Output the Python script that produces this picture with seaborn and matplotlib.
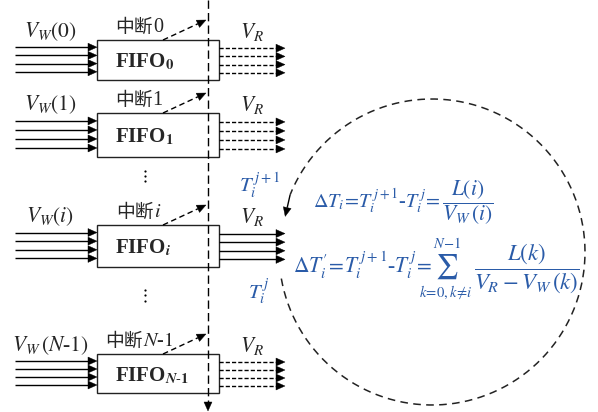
import numpy as np
import matplotlib
matplotlib.use('Agg')
import matplotlib.pyplot as plt
import seaborn as sns
from matplotlib.patches import Rectangle, Polygon

sns.set_theme(style='white')
plt.rcParams['font.family'] = ['Liberation Serif', 'Noto Sans CJK SC', 'DejaVu Sans']
plt.rcParams['mathtext.fontset'] = 'stix'

# row content
vw_labels = [r'$V_W(0)$', r'$V_W(1)$', r'$V_W(i)$', r'$V_W\,(N$-$1)$']
irq_word = '中断'
irq_suffix = ['0', '1', r'$i$', r'$N$-$1$']
fifo_labels = [r'FIFO$_{\mathbf{0}}$', r'FIFO$_{\mathbf{1}}$',
               r'FIFO$_{\mathbfit{i}}$', r'FIFO$_{\mathbfit{N}\mathbf{\text{-}1}}$']
vr_label = r'$V_R$'
out_dashed = [True, True, False, True]

# blue annotations
t_next = r'$T_i^{\,j+1}$'
t_cur = r'$T_i^{\,j}$'
eq1_left = r'$\Delta T_i\!=\!T_i^{\,j+1}$-$T_i^{\,j}\!=\!$'
eq1_frac = r'$\dfrac{L(i)}{V_W\,(i)}$'
eq2_left = r"$\Delta T_i^{\prime}\!=\!T_i^{\,j+1}$-$T_i^{\,j}\!=$"
eq2_sum, eq2_top, eq2_bot = r'$\sum$', r'$N\!-\!1$', r'$k\!=\!0,k\!\neq\! i$'
eq2_frac = r'$\dfrac{L(k)}{V_R-V_W\,(k)}$'

# layout (pixel coords)
row_top = [40, 113, 225, 354]
row_h = [40, 44, 42, 39]
box_x0, box_x1 = 97, 219
bus_x = 208
blue = '#2a5ba8'


def arrow(ax, x0, y0, x1, y1, lw=1.0, hl=9, hw=4, color='black', dashes=None):
    d = np.array([x1 - x0, y1 - y0], float)
    u = d / np.hypot(*d)
    p = np.array([-u[1], u[0]])
    base = np.array([x1, y1]) - hl * u
    line, = ax.plot([x0, base[0]], [y0, base[1]], color=color, lw=lw,
                    solid_capstyle='butt', zorder=3)
    if dashes is not None:
        line.set_dashes(dashes)
    ax.add_patch(Polygon([[x1, y1], base + hw * p, base - hw * p], closed=True,
                         fc=color, ec=color, lw=0.3, zorder=4))


fig = plt.figure(figsize=(5.98, 4.12), dpi=100)
ax = fig.add_axes([0, 0, 1, 1])
ax.set_xlim(0, 598)
ax.set_ylim(412, 0)
ax.axis('off')


def width(t):
    fig.canvas.draw()
    return t.get_window_extent().width


for k in range(4):
    top, h = row_top[k], row_h[k]
    ax.add_patch(Rectangle((box_x0, top), box_x1 - box_x0, h, fc='white',
                           ec='#222222', lw=1.0, zorder=2))
    for j in range(4):
        y = top + h * (0.18 + 0.205 * j)
        arrow(ax, 15, y, box_x0, y)
        arrow(ax, box_x1, y + 1, 285, y + 1,
              dashes=(3, 1.5) if out_dashed[k] else None)
    arrow(ax, 163, top, bus_x - 2, top - 20, dashes=(4, 2.5))
    ax.text(box_x0 + 18, top + h / 2 + 2, fifo_labels[k], fontsize=15,
            fontweight='bold', ha='left', va='center', zorder=5)
    ax.text(50, top - 8, vw_labels[k], fontsize=15.5, ha='center', va='center')
    ax.text(252, top - 8, vr_label, fontsize=15.5, ha='center', va='center')
    # 中断 + suffix, centred as a group
    tw = ax.text(0, top - 13, irq_word, fontsize=13.5, ha='left', va='center',
                 family=['Noto Sans CJK SC'])
    ts = ax.text(0, top - 13, irq_suffix[k], fontsize=14.5, ha='left', va='center')
    w1, w2 = width(tw), width(ts)
    x0 = 139 - (w1 + w2) / 2
    tw.set_x(x0)
    ts.set_x(x0 + w1)

# vertical dots between rows
for yy in ([171, 176, 181], [290, 295, 301]):
    ax.scatter([145] * 3, yy, s=2.5, color='black', lw=0, zorder=3)

# vertical dashed bus
arrow(ax, bus_x, 0, bus_x, 411, dashes=(6, 3))

# dashed circle with arrow
cx, cy, r = 432, 252, 153
th = np.radians(np.linspace(-170, 158, 400))
circ, = ax.plot(cx + r * np.cos(th), cy - r * np.sin(th), color='#222222', lw=1.1)
circ.set_dashes((5, 3.5))
a0, a1 = np.radians(158), np.radians(165)
arrow(ax, cx + r * np.cos(a0), cy - r * np.sin(a0),
      cx + r * np.cos(a1) + 1, cy - r * np.sin(a1) + 4)

ax.text(260, 185, t_next, fontsize=15, color=blue, ha='center', va='center')
ax.text(259, 292, t_cur, fontsize=15, color=blue, ha='center', va='center')

# equation 1
l1 = ax.text(313, 208, eq1_left, fontsize=14.5, color=blue, ha='left', va='baseline')
ax.text(313 + width(l1) + 1, 203, eq1_frac, fontsize=15.5, color=blue,
        ha='left', va='center')

# equation 2
ax.text(293, 273, eq2_left, fontsize=15.5, color=blue, ha='left', va='baseline')
ax.text(447, 267, eq2_sum, fontsize=18, color=blue, ha='center', va='center')
ax.text(447, 243, eq2_top, fontsize=10.5, color=blue, ha='center', va='center')
ax.text(446, 292, eq2_bot, fontsize=10.5, color=blue, ha='center', va='center')
ax.text(474, 268, eq2_frac, fontsize=16.5, color=blue, ha='left', va='center')

fig.savefig('out.png', dpi=100, facecolor='white')
